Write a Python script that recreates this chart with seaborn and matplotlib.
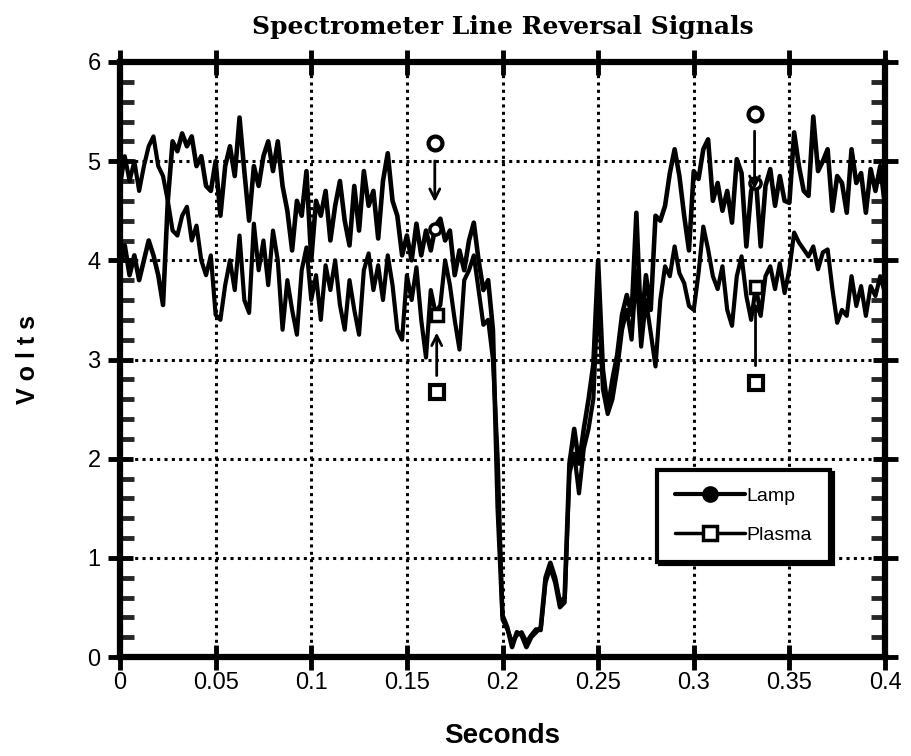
import numpy as np
import pandas as pd
import matplotlib
matplotlib.use("Agg")
import matplotlib.pyplot as plt
from matplotlib.lines import Line2D
import seaborn as sns

# ---------------- data ----------------
dt = 0.0025  # sample spacing in seconds
lamp = [3.95, 4.15, 3.85, 4.05, 3.8, 4.0, 4.2, 4.05, 3.85, 3.55,
        4.6, 5.2, 5.1, 5.28, 5.15, 5.25, 4.95, 5.05, 4.75, 4.7,
        5.0, 4.45, 4.95, 5.15, 4.85, 5.44, 4.9, 4.4, 4.95, 4.75,
        5.05, 5.2, 4.9, 5.2, 4.75, 4.5, 4.1, 4.6, 4.45, 4.9,
        4.0, 4.6, 4.45, 4.7, 4.2, 4.55, 4.8, 4.4, 4.15, 4.75,
        4.3, 4.9, 4.55, 4.7, 4.22, 4.8, 5.08, 4.6, 4.45, 4.05,
        4.25, 4.0, 4.37, 4.05, 4.3, 4.1, 4.35, 4.42, 4.2, 4.3,
        3.85, 4.1, 3.9, 4.2, 4.38, 4.0, 3.7, 3.8, 3.3, 1.5,
        0.42, 0.3, 0.1, 0.25, 0.22, 0.1, 0.2, 0.25, 0.3, 0.8,
        0.95, 0.8, 0.55, 0.6, 1.95, 2.3, 1.95, 2.3, 2.6, 2.95,
        4.0, 2.9, 2.5, 2.8, 3.05, 3.45, 3.65, 3.45, 4.48, 3.3,
        3.85, 3.5, 4.45, 4.4, 4.55, 4.88, 5.12, 4.85, 4.45, 4.1,
        4.9, 4.82, 5.12, 5.22, 4.6, 4.78, 4.5, 4.7, 4.38, 5.02,
        4.88, 4.14, 4.7, 4.82, 4.14, 4.75, 4.92, 4.55, 4.85, 4.6,
        4.58, 5.29, 4.95, 4.7, 4.65, 5.45, 4.9, 5.0, 5.12, 4.5,
        4.85, 4.78, 4.48, 5.12, 4.78, 4.88, 4.48, 4.92, 4.7, 4.95,
        4.55]
plasma = [4.75, 5.05, 4.8, 5.0, 4.7, 4.95, 5.15, 5.25, 4.95, 4.85,
          4.6, 4.3, 4.25, 4.45, 4.54, 4.2, 4.35, 4.0, 3.85, 4.05,
          3.45, 3.4, 3.75, 4.0, 3.7, 4.25, 3.6, 3.47, 4.37, 3.9,
          4.2, 3.75, 4.3, 4.0, 3.3, 3.8, 3.5, 3.25, 3.9, 4.13,
          3.6, 3.85, 3.4, 3.95, 3.7, 4.0, 3.55, 3.3, 3.8, 3.5,
          3.25, 3.9, 4.07, 3.7, 3.95, 3.6, 4.05, 3.75, 3.3, 3.2,
          3.85, 3.6, 3.93, 3.4, 3.02, 3.7, 3.47, 3.55, 4.0, 3.75,
          3.4, 3.1, 3.8, 3.9, 4.05, 3.7, 3.35, 3.4, 3.0, 2.0,
          0.38, 0.28, 0.15, 0.22, 0.25, 0.15, 0.22, 0.28, 0.27, 0.75,
          0.9, 0.75, 0.5, 0.55, 1.85, 2.05, 1.65, 2.1, 2.3, 2.6,
          3.7, 2.7, 2.45, 2.6, 2.9, 3.3, 3.5, 3.2, 3.9, 3.13,
          3.6, 3.27, 2.93, 3.6, 3.94, 3.84, 4.14, 3.87, 3.77, 3.54,
          3.5, 3.87, 4.34, 4.11, 3.84, 3.71, 3.94, 3.5, 3.34, 3.84,
          4.04, 3.64, 3.4, 3.74, 3.44, 3.84, 3.94, 3.71, 3.97, 3.67,
          3.91, 4.28, 4.18, 4.11, 4.04, 4.14, 3.91, 4.08, 4.11, 3.71,
          3.37, 3.5, 3.44, 3.84, 3.54, 3.74, 3.44, 3.74, 3.64, 3.84,
          3.67]
seconds = [i * dt for i in range(len(lamp))]

# annotation markers: (time, marker value, arrow start, arrow end)
lamp_marks_t = [0.1646, 0.3318]
lamp_marks_label_v = [5.18, 5.48]
lamp_marks_arrow = [(5.03, 4.56), (5.33, 4.69)]
lamp_marks_on_line = [4.32, 4.78]
plasma_marks_t = [0.1656, 0.3323]
plasma_marks_label_v = [2.67, 2.76]
plasma_marks_arrow = [(2.81, 3.30), (2.91, 3.60)]
plasma_marks_on_line = [3.45, 3.73]

x_ticks = [0, 0.05, 0.1, 0.15, 0.2, 0.25, 0.3, 0.35, 0.4]
x_labels = ["0", "0.05", "0.1", "0.15", "0.2", "0.25", "0.3", "0.35", "0.4"]
y_ticks = [0, 1, 2, 3, 4, 5, 6]

df = pd.DataFrame({
    "Seconds": seconds * 2,
    "Volts": lamp + plasma,
    "Signal": ["Lamp"] * len(lamp) + ["Plasma"] * len(plasma),
})

# ---------------- styling ----------------
sns.set_theme(style="white")
plt.rcParams["font.family"] = ["Liberation Sans", "DejaVu Sans"]
plt.rcParams["text.color"] = "black"
plt.rcParams["axes.labelcolor"] = "black"

fig = plt.figure(figsize=(9.11, 7.56), dpi=100)
ax = fig.add_axes([120 / 911, 99 / 756, 765 / 911, 595 / 756])

sns.lineplot(data=df[df.Signal == "Plasma"], x="Seconds", y="Volts", ax=ax,
             color="black", lw=3.0, estimator=None, sort=False, legend=False)
sns.lineplot(data=df[df.Signal == "Lamp"], x="Seconds", y="Volts", ax=ax,
             color="black", lw=3.3, estimator=None, sort=False, legend=False)

ax.set_xlim(0, 0.4)
ax.set_ylim(0, 6)
ax.set_xticks(x_ticks)
ax.set_xticklabels(x_labels)
ax.set_yticks(y_ticks)
ax.set_yticks(np.arange(0, 6.01, 0.2), minor=True)

ax.grid(True, which="major", color="black", linestyle=(0, (1, 1.4)), lw=2.2)
ax.grid(False, which="minor")
for sp in ax.spines.values():
    sp.set_visible(True)
    sp.set_linewidth(4.5)
    sp.set_color("black")

ax.tick_params(which="major", direction="inout", length=18, width=3.5,
               top=True, right=True, bottom=True, left=True,
               labelsize=17, pad=2, colors="black")
ax.tick_params(axis="y", which="major", pad=5)
ax.tick_params(axis="x", which="minor", bottom=False, top=False)
ax.tick_params(axis="y", which="minor", direction="in", length=10, width=3.5,
               left=True, right=True)

ax.set_xlabel("Seconds", fontsize=20, fontweight="bold", labelpad=21,
              color="black")
ax.set_ylabel("V o l t s", fontsize=18, fontweight="bold", labelpad=34,
              color="black")
ax.set_title("Spectrometer Line Reversal Signals", fontsize=18,
             fontweight="bold", family=["DejaVu Serif"], color="black",
             pad=20)

# annotation markers & arrows
for t, lv, (a0, a1), ov in zip(lamp_marks_t, lamp_marks_label_v,
                              lamp_marks_arrow, lamp_marks_on_line):
    ax.plot([t], [lv], marker="o", ms=10, mfc="white", mec="black", mew=3)
    ax.annotate("", xy=(t, a1), xytext=(t, a0),
                arrowprops=dict(arrowstyle="->", lw=2.0, color="black",
                                mutation_scale=18))
    ax.plot([t], [ov], marker="o", ms=8, mfc="white", mec="black", mew=2.5)
for t, lv, (a0, a1), ov in zip(plasma_marks_t, plasma_marks_label_v,
                              plasma_marks_arrow, plasma_marks_on_line):
    ax.plot([t], [lv], marker="s", ms=10, mfc="white", mec="black", mew=3)
    ax.annotate("", xy=(t, a1), xytext=(t, a0),
                arrowprops=dict(arrowstyle="->", lw=2.0, color="black",
                                mutation_scale=18))
    ax.plot([t], [ov], marker="s", ms=9, mfc="white", mec="black", mew=2.5)

handles = [
    Line2D([], [], color="black", lw=3, marker="o", ms=11,
           mfc="black", mec="black"),
    Line2D([], [], color="black", lw=2.5, marker="s", ms=10,
           mfc="white", mec="black", mew=2.5),
]
leg = ax.legend(handles, ["Lamp", "Plasma"], loc="upper left",
                bbox_to_anchor=(0.281, 1.885), bbox_transform=ax.transData,
                borderaxespad=0, frameon=True, fancybox=False,
                shadow={"color": "black", "alpha": 1},
                fontsize=14, handlelength=3.6, handletextpad=0.1,
                labelspacing=1.1, borderpad=0.9)
leg.get_frame().set_edgecolor("black")
leg.get_frame().set_linewidth(3)
leg.get_frame().set_alpha(1)
for txt in leg.get_texts():
    txt.set_color("black")

fig.savefig("out.png", dpi=100, facecolor="white")
